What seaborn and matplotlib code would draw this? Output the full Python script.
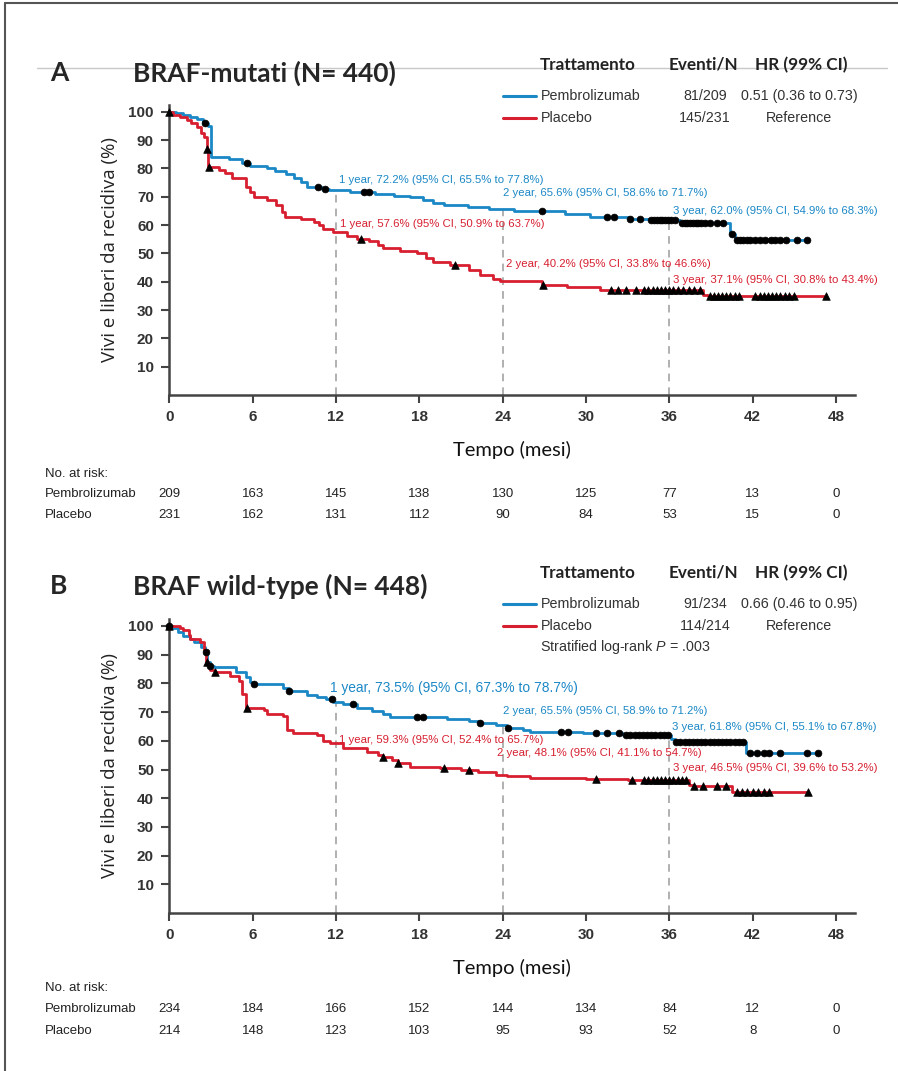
import numpy as np
import pandas as pd
import matplotlib
matplotlib.use("Agg")
import matplotlib.pyplot as plt
import matplotlib.transforms as mtransforms
from matplotlib.lines import Line2D
import seaborn as sns

# ==========================================
# Data
# ==========================================

# Panel A - BRAF-mutati
a_pembro_t = [0, 0.5, 1.0, 1.5, 2.0, 2.4, 2.8, 3.0, 4.3, 5.2, 5.8, 7.0, 7.6, 8.4, 9.0, 9.5, 9.9,
              11.0, 11.5, 13.0, 14.8, 16.2, 17.3, 18.3, 19.0, 19.8, 21.5, 23.0, 24.8, 28.5, 30.3,
              33.2, 34.6, 36.8, 40.4, 40.7, 46.0]
a_pembro_s = [100, 99.5, 99.0, 98.3, 97.5, 96.0, 94.8, 84.0, 83.2, 82.0, 80.8, 80.0, 79.2, 78.0, 76.5,
              75.2, 73.5, 72.8, 72.2, 71.6, 71.0, 70.4, 69.8, 68.8, 67.8, 67.1, 66.4, 65.6, 64.8, 63.8,
              62.8, 62.2, 61.6, 60.7, 57.0, 54.7, 54.7]
a_pembro_cens = [2.6, 5.6, 10.7, 11.2, 14.0, 14.4, 26.8, 31.5, 32.0, 33.2, 33.9, 34.7, 34.9, 35.1,
                 35.3, 35.5, 35.7, 35.9, 36.1, 36.4, 36.9, 37.1, 37.3, 37.5, 37.7, 37.9, 38.1, 38.3,
                 38.6, 38.9, 39.4, 39.9, 40.5, 40.85, 41.1, 41.3, 41.6, 41.8, 42.2, 42.5, 42.9, 43.3,
                 43.6, 44.0, 44.4, 45.2, 45.9]

a_placebo_t = [0, 0.3, 0.8, 1.3, 1.6, 2.0, 2.3, 2.5, 2.7, 2.8, 3.6, 4.0, 4.5, 5.5, 5.8, 6.1, 7.0,
               7.7, 8.1, 8.3, 9.5, 10.4, 10.8, 11.1, 11.8, 12.8, 13.5, 14.4, 15.0, 15.4, 16.6, 17.8,
               18.5, 19.0, 20.2, 21.6, 22.4, 23.3, 23.8, 26.8, 28.6, 31.0, 38.4, 38.8, 47.3]
a_placebo_s = [100, 99.0, 98.2, 97.0, 96.0, 94.5, 92.5, 91.0, 87.0, 80.6, 79.5, 78.5, 76.5, 73.5,
               71.5, 70.0, 68.8, 67.0, 64.5, 63.0, 62.3, 61.2, 60.0, 58.5, 57.6, 56.3, 55.2, 54.2,
               52.8, 51.8, 51.0, 50.0, 48.5, 47.0, 45.9, 44.0, 42.3, 41.0, 40.2, 39.0, 38.2, 37.1,
               35.3, 34.8, 34.8]
a_placebo_cens = [0.0, 2.7, 2.85, 13.8, 20.6, 26.9, 31.8, 32.3, 32.9, 33.6, 34.2, 34.5, 34.8, 35.1,
                  35.4, 35.7, 36.0, 36.3, 36.6, 37.0, 37.4, 37.8, 38.2, 38.9, 39.2, 39.5, 39.8, 40.1,
                  40.4, 40.7, 41.0, 42.2, 42.5, 42.8, 43.1, 43.4, 43.7, 44.0, 44.3, 44.6, 45.0, 47.3]

# Panel B - BRAF wild-type
b_pembro_t = [0, 0.3, 0.6, 1.0, 1.5, 1.8, 2.3, 2.6, 2.7, 2.9, 3.2, 4.8, 5.5, 5.8, 6.0, 8.2, 8.6,
              9.9, 10.6, 11.3, 11.8, 12.5, 13.5, 14.6, 15.4, 15.9, 20.0, 21.6, 22.4, 23.5, 24.3,
              25.5, 26.0, 29.8, 32.7, 36.1, 36.4, 41.5, 46.7]
b_pembro_s = [100, 99.2, 98.0, 96.5, 95.3, 94.5, 92.7, 91.0, 87.4, 86.2, 85.6, 83.9, 82.1, 80.4,
              79.8, 78.4, 77.4, 76.0, 75.2, 74.5, 73.5, 72.7, 71.5, 70.3, 69.2, 68.2, 67.5, 66.8,
              66.1, 65.5, 64.4, 63.6, 63.2, 62.6, 62.0, 60.8, 59.7, 55.6, 55.6]
b_pembro_cens = [0.0, 2.64, 2.93, 6.1, 8.64, 11.7, 13.2, 17.8, 18.3, 22.4, 24.4, 28.2, 28.7, 30.7,
                 31.5, 32.4, 32.9, 33.2, 33.5, 33.8, 34.1, 34.4, 34.7, 35.0, 35.3, 35.6, 35.9, 36.5,
                 36.8, 37.1, 37.4, 37.7, 38.0, 38.3, 38.6, 38.9, 39.2, 39.5, 39.8, 40.1, 40.4, 40.7,
                 41.0, 41.3, 41.8, 42.3, 42.8, 43.2, 44.0, 45.9, 46.7]

b_placebo_t = [0, 0.8, 1.0, 1.4, 1.5, 2.2, 2.5, 2.65, 2.8, 2.9, 3.3, 4.4, 5.0, 5.2, 5.55, 6.8, 7.0,
               8.2, 8.45, 8.9, 10.6, 11.1, 11.6, 12.5, 14.2, 15.0, 15.4, 16.0, 16.5, 17.3, 19.5,
               21.0, 22.2, 23.5, 24.3, 26.0, 30.0, 33.0, 37.4, 37.7, 40.5, 46.0]
b_placebo_s = [100, 99.2, 98.6, 97.0, 95.6, 94.5, 91.5, 87.4, 86.8, 84.5, 83.9, 82.7, 81.0, 76.2,
               71.5, 70.9, 69.2, 68.6, 63.9, 62.7, 61.9, 60.0, 59.3, 57.4, 56.2, 55.0, 54.5, 53.2,
               52.1, 50.9, 50.4, 49.8, 49.2, 48.1, 47.7, 47.2, 46.8, 46.5, 44.6, 44.3, 42.3, 42.3]
b_placebo_cens = [0.0, 2.75, 3.3, 5.6, 15.4, 16.5, 19.8, 21.6, 30.7, 33.3, 34.2, 34.5, 34.8, 35.1,
                  35.4, 35.7, 36.0, 36.3, 36.6, 36.9, 37.2, 37.8, 38.4, 39.4, 40.1, 40.85, 41.2,
                  41.6, 42.0, 42.4, 42.8, 43.2, 46.0]

# Number at risk
risk_months = [0, 6, 12, 18, 24, 30, 36, 42, 48]
a_risk_pembro = [209, 163, 145, 138, 130, 125, 77, 13, 0]
a_risk_placebo = [231, 162, 131, 112, 90, 84, 53, 15, 0]
b_risk_pembro = [234, 184, 166, 152, 144, 134, 84, 12, 0]
b_risk_placebo = [214, 148, 123, 103, 95, 93, 52, 8, 0]

# Legend tables
arms = ["Pembrolizumab", "Placebo"]
a_events = ["81/209", "145/231"]
a_hr = ["0.51 (0.36 to 0.73)", "Reference"]
b_events = ["91/234", "114/214"]
b_hr = ["0.66 (0.46 to 0.95)", "Reference"]

# Landmark annotations (1, 2, 3 years)
landmarks = [12, 24, 36]
a_note_pembro = ["1 year, 72.2% (95% CI, 65.5% to 77.8%)", "2 year, 65.6% (95% CI, 58.6% to 71.7%)",
                 "3 year, 62.0% (95% CI, 54.9% to 68.3%)"]
a_note_placebo = ["1 year, 57.6% (95% CI, 50.9% to 63.7%)", "2 year, 40.2% (95% CI, 33.8% to 46.6%)",
                  "3 year, 37.1% (95% CI, 30.8% to 43.4%)"]
b_note_pembro = ["1 year, 73.5% (95% CI, 67.3% to 78.7%)", "2 year, 65.5% (95% CI, 58.9% to 71.2%)",
                 "3 year, 61.8% (95% CI, 55.1% to 67.8%)"]
b_note_placebo = ["1 year, 59.3% (95% CI, 52.4% to 65.7%)", "2 year, 48.1% (95% CI, 41.1% to 54.7%)",
                  "3 year, 46.5% (95% CI, 39.6% to 53.2%)"]

# ==========================================
# Style
# ==========================================
sns.set_style("white")
plt.rcParams["font.family"] = ["Liberation Sans", "DejaVu Sans"]
plt.rcParams["mathtext.fontset"] = "custom"
plt.rcParams["mathtext.it"] = "Liberation Sans:italic"
plt.rcParams["mathtext.rm"] = "Liberation Sans"

BLUE = "#1b88c6"
RED = "#d71f30"
DARK = "#333333"
HEAD = "Lato"

W, H = 898, 1071
fig = plt.figure(figsize=(W / 100, H / 100), dpi=100)


def fx(x):
    return x / W


def fy(y):
    return 1 - y / H


def step_value(times, values, t):
    idx = np.searchsorted(np.asarray(times), np.asarray(t), side="right") - 1
    return np.asarray(values)[np.clip(idx, 0, None)]


def draw_curve(ax, t, s, cens, color, marker, msize):
    df = pd.DataFrame({"t": t, "s": s})
    sns.lineplot(data=df, x="t", y="s", drawstyle="steps-post", color=color, lw=2.0,
                 estimator=None, sort=False, ax=ax, zorder=3)
    cy = step_value(t, s, cens)
    sns.scatterplot(x=cens, y=cy, marker=marker, s=msize, color="black", edgecolor="black",
                    linewidth=0.5, ax=ax, zorder=4, clip_on=False)


def draw_panel(ax, top_px, head_px, letter, title, pembro, placebo, notes_p, notes_r,
               note_pos_p, note_pos_r, events, hr, risk_p, risk_r, risk_px,
               big_first=False, logrank=False, rule=False):
    # curves
    draw_curve(ax, *pembro, BLUE, "o", 24)
    draw_curve(ax, *placebo, RED, "^", 30)

    # dashed landmark lines up to pembrolizumab curve
    ax.vlines(landmarks, 0, step_value(pembro[0], pembro[1], landmarks), colors="#9b9b9b",
              linestyles=(0, (5, 4)), lw=1.1, zorder=1)

    # landmark notes
    for i, (txt, (x, y)) in enumerate(zip(notes_p, note_pos_p)):
        size = 9.9 if (big_first and i == 0) else 8.2
        ax.text(x, y, txt, color=BLUE, fontsize=size, va="center", ha="left", clip_on=False)
    for txt, (x, y) in zip(notes_r, note_pos_r):
        ax.text(x, y, txt, color=RED, fontsize=8.2, va="center", ha="left", clip_on=False)

    # axes
    ax.set_xlim(0, 49.4)
    ax.set_ylim(0, 102.5)
    ax.set_xticks(risk_months)
    ax.set_yticks(range(10, 101, 10))
    sns.despine(ax=ax)
    for side in ["left", "bottom"]:
        ax.spines[side].set_color("#444444")
        ax.spines[side].set_linewidth(1.8)
    ax.tick_params(axis="both", direction="out", length=6, width=1.5, color="#444444",
                   labelcolor=DARK, pad=5, left=True, bottom=True)
    for lab in ax.get_xticklabels() + ax.get_yticklabels():
        lab.set_fontweight("bold")
        lab.set_fontsize(11)
    ax.set_ylabel("Vivi e liberi da recidiva (%)", fontsize=13.5, family="Open Sans",
                  color="#222222", labelpad=7)
    ax.set_xlabel("Tempo (mesi)", fontsize=14.5, family=HEAD, color="#111111", labelpad=12)

    # title
    fig.text(fx(50), fy(top_px), letter, fontsize=19, fontweight="bold", family=HEAD,
             va="center", ha="left")
    fig.text(fx(133), fy(top_px), title, fontsize=19, fontweight="bold", family=HEAD,
             va="center", ha="left")

    # legend table
    hy = head_px
    if rule:
        fig.add_artist(Line2D([fx(37), fx(887)], [fy(68.3), fy(68.3)], color="#c8c8c8",
                              lw=1.0, zorder=0))
    for txt, cx in zip(["Trattamento", "Eventi/N", "HR (99% CI)"], [588, 703, 801]):
        fig.text(fx(cx), fy(hy), txt, fontsize=12.3, fontweight="bold", family=HEAD,
                 va="center", ha="center", color="#222222")
    for i, (arm, ev, h, col) in enumerate(zip(arms, events, hr, [BLUE, RED])):
        ry = hy + 31 + 22 * i
        fig.add_artist(Line2D([fx(503), fx(536)], [fy(ry), fy(ry)], color=col, lw=2.2))
        fig.text(fx(541), fy(ry), arm, fontsize=10.3, va="center", ha="left", color="#333333")
        fig.text(fx(705), fy(ry), ev, fontsize=10.3, va="center", ha="center", color="#333333")
        fig.text(fx(799), fy(ry), h, fontsize=10.3, va="center", ha="center", color="#333333")
    if logrank:
        fig.text(fx(540), fy(hy + 74), "Stratified log-rank $\\it{P}$ = .003", fontsize=10.3,
                 va="center", ha="left", color="#333333")

    # number at risk table
    tr = mtransforms.blended_transform_factory(ax.transData, fig.transFigure)
    y0, y1, y2 = risk_px
    fig.text(fx(45), fy(y0), "No. at risk:", fontsize=9.5, va="center", ha="left", color="#222222")
    fig.text(fx(45), fy(y1), arms[0], fontsize=9.5, va="center", ha="left", color="#222222")
    fig.text(fx(45), fy(y2), arms[1], fontsize=9.5, va="center", ha="left", color="#222222")
    for m, n1, n2 in zip(risk_months, risk_p, risk_r):
        ax.text(m, fy(y1), str(n1), transform=tr, fontsize=9.5, va="center", ha="center",
                color="#222222", clip_on=False)
        ax.text(m, fy(y2), str(n2), transform=tr, fontsize=9.5, va="center", ha="center",
                color="#222222", clip_on=False)


ax_a = fig.add_axes([0.1885, 0.6312, 0.7641, 0.2711])
ax_b = fig.add_axes([0.1885, 0.1475, 0.7641, 0.2747])

draw_panel(ax_a, 73, 65, "A", "BRAF-mutati (N= 440)",
           (a_pembro_t, a_pembro_s, a_pembro_cens), (a_placebo_t, a_placebo_s, a_placebo_cens),
           a_note_pembro, a_note_placebo,
           [(12.2, 75.9), (24.0, 71.2), (36.25, 65.0)], [(12.3, 60.3), (24.25, 46.2), (36.25, 40.6)],
           a_events, a_hr, a_risk_pembro, a_risk_placebo, (474, 494, 515), rule=True)

draw_panel(ax_b, 586, 573, "B", "BRAF wild-type (N= 448)",
           (b_pembro_t, b_pembro_s, b_pembro_cens), (b_placebo_t, b_placebo_s, b_placebo_cens),
           b_note_pembro, b_note_placebo,
           [(11.55, 78.5), (24.05, 70.5), (36.2, 64.7)], [(12.2, 60.3), (23.6, 55.9), (36.25, 50.4)],
           b_events, b_hr, b_risk_pembro, b_risk_placebo, (988, 1009, 1031),
           big_first=True, logrank=True)

# outer frame (top and left edges only)
fig.add_artist(Line2D([fx(5), fx(898)], [fy(3), fy(3)], color="#555555", lw=1.5))
fig.add_artist(Line2D([fx(5), fx(5)], [fy(3), fy(1071)], color="#555555", lw=1.5))

plt.savefig("out.png", dpi=100)
